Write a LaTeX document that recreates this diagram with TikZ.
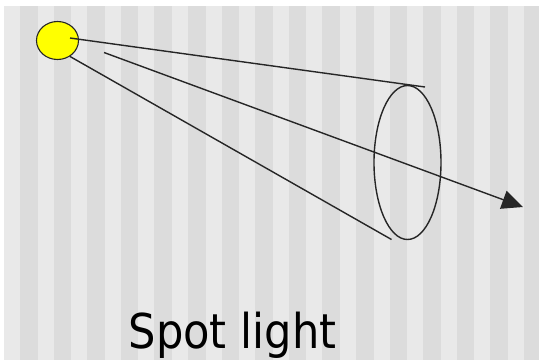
\documentclass[tikz,border=0pt]{standalone}
\usepackage{fontspec}
\usepackage{tikz}
\usetikzlibrary{arrows.meta,shapes.geometric}
\newfontfamily\labelfont[FakeStretch=0.9]{DejaVu Sans}
\definecolor{stripelight}{HTML}{E9E9E9}
\definecolor{stripedark}{HTML}{DCDCDC}
\definecolor{lampyellow}{HTML}{FFFF00}

\begin{document}
\begin{tikzpicture}[
  x=1pt,y=-1pt,
  ray/.style={line width=1.4pt,draw=black!85},
  lamp/.style={ellipse,draw=black!85,line width=1.1pt,fill=lampyellow,minimum width=42pt,minimum height=38pt,inner sep=0pt},
  spot/.style={ellipse,draw=black!85,line width=1.4pt,minimum width=67pt,minimum height=154pt,inner sep=0pt},
  arrow/.style={ray,-{Triangle[length=21pt,width=19pt]}}
]
% background with stripes
\fill[white] (0,0) rectangle (539,360);
\fill[stripedark] (4,6) rectangle (539,360);
\foreach \i in {0,...,15}
  \fill[stripelight] (4+33.6*\i,6) rectangle (20+33.6*\i,360);
\useasboundingbox (0,0) rectangle (539,360);

\node[lamp] (source) at (57.5,40.5) {};
\node[spot] (cone) at (407.5,162.5) {};
\coordinate (raystart) at (70,38);
\coordinate (raytop) at (425,87);
\coordinate (raybot) at (391.5,239.5);
\coordinate (aimstart) at (104,52.5);
\coordinate (aimtip) at (523,207);

\draw[ray] (raystart) -- (raytop);
\draw[ray] (source.-52) -- (raybot);
\draw[arrow] (aimstart) -- (aimtip);

\node[anchor=base,font=\labelfont\fontsize{48}{56}\selectfont,inner sep=0pt] (caption) at (232.5,348) {Spot light};
\end{tikzpicture}
\end{document}
